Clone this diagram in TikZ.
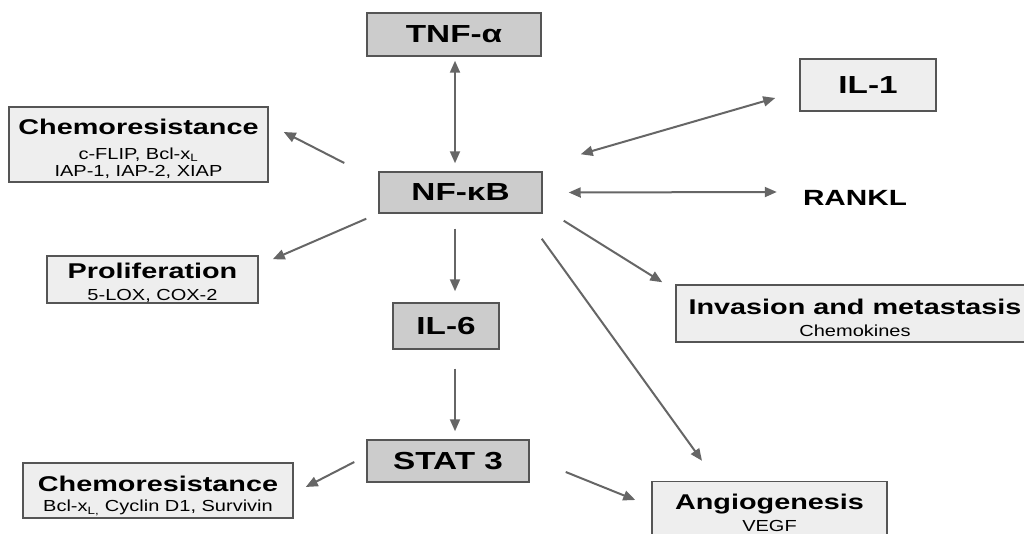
\documentclass[tikz,border=0pt]{standalone}
\usepackage{fontspec}
\setmainfont{Liberation Sans}[FakeStretch=1.35]
\newfontfamily\subfam{Liberation Sans}[FakeStretch=1.25]
\usetikzlibrary{arrows.meta}
\definecolor{dbox}{HTML}{CCCCCC}
\definecolor{lbox}{HTML}{EEEEEE}
\definecolor{edgec}{HTML}{555555}
\definecolor{arrc}{HTML}{666666}
\newcommand\mybigf{\rmfamily\fontsize{18.5}{21}\selectfont\bfseries}
\newcommand\myranf{\rmfamily\fontsize{16.5}{20}\selectfont\bfseries}
\newcommand\mytitf{\rmfamily\fontsize{16}{19}\selectfont\bfseries}
\newcommand\mysubf{\subfam\fontsize{12}{13}\selectfont}
\begin{document}
\begin{tikzpicture}[x=0.75pt,y=-0.75pt,
  box/.style={draw=edgec,line width=1.1pt,inner sep=0pt,align=center},
  bx/.style 2 args={minimum width=#1*0.75pt,minimum height=#2*0.75pt},
  dark/.style={box,fill=dbox,font=\mybigf},
  light/.style={box,fill=lbox,font=\mysubf},
  arr/.style={draw=arrc,line width=1.5pt,-{Triangle[length=9pt,width=7.5pt]}},
  darr/.style={draw=arrc,line width=1.5pt,{Triangle[length=9pt,width=7.5pt]}-{Triangle[length=9pt,width=7.5pt]}}]
\useasboundingbox (0,0) rectangle (1024,534);
\clip (0,0) rectangle (1024,534);
% dark boxes
\node[dark,bx={174}{43}] (tnf) at (454,34.5) {TNF-α};
\node[dark,bx={163}{41}] (nf) at (460.5,192.5) {NF-κB};
\node[dark,bx={106}{46}] (il6) at (446,326) {IL-6};
\node[dark,bx={162}{42}] (stat) at (448,461) {STAT 3};
% light boxes
\node[light,bx={136}{52},font=\mybigf] (il1) at (868,85) {IL-1};
\node[light,bx={259}{75}] (chemoa) at (138.5,144.5) {{\mytitf\rule{0pt}{18pt}Chemoresistance}\\[6pt]c-FLIP, Bcl-x\textsubscript{L}\\IAP-1, IAP-2, XIAP};
\node[light,bx={211}{47}] (prolif) at (152.5,279.5) {{\mytitf\rule{0pt}{16.5pt}Proliferation}\\[3pt]5-LOX, COX-2};
\node[light,bx={358}{57}] (inv) at (855,313.5) {{\mytitf\rule{0pt}{18pt}Invasion and metastasis}\\[3pt]Chemokines};
\node[light,bx={235}{63}] (angio) at (769.5,513) {{\mytitf Angiogenesis}\\[4pt]VEGF};
\node[light,bx={270}{55}] (chemob) at (158,490.5) {{\mytitf\rule{0pt}{19.5pt}Chemoresistance}\\[2pt]Bcl-x\textsubscript{L,} Cyclin D1, Survivin};
\node[font=\myranf,inner sep=0pt] (rankl) at (855,198) {RANKL};
% connectors
\draw[darr] ([shift={(1,4)}]tnf.south) -- ([shift={(-5.5,-8)}]nf.north);
\draw[darr] ([shift={(38,-17)}]nf.north east) -- ([shift={(-24,13)}]il1.west);
\draw[arr] ([shift={(-34,-29.5)}]nf.west) -- ([shift={(15,-12.5)}]chemoa.east);
\draw[darr] ([shift={(26,0)}]nf.east) -- ([shift={(-26,-6)}]rankl.west);
\draw[arr] ([shift={(-12,5)}]nf.south west) -- ([shift={(14,4)}]prolif.north east);
\draw[arr] ([shift={(-5.5,15)}]nf.south) -- ([shift={(9,-11)}]il6.north);
\draw[arr] ([shift={(21,7)}]nf.south east) -- ([shift={(-13,-2)}]inv.north west);
\draw[arr] ([shift={(-1,25)}]nf.south east) -- ([shift={(-67.5,-20)}]angio.north);
\draw[arr] ([shift={(9,19)}]il6.south) -- ([shift={(7,-8)}]stat.north);
\draw[arr] ([shift={(-12,1)}]stat.west) -- ([shift={(12,-3.5)}]chemob.east);
\draw[arr] ([shift={(36,11)}]stat.east) -- ([shift={(-16,-13)}]angio.west);
\end{tikzpicture}
\end{document}
